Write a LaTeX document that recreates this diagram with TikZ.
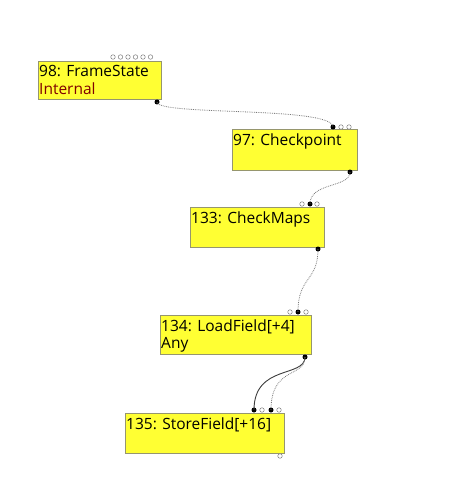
\documentclass[tikz,border=0pt]{standalone}
\usepackage{fontspec}
\setmainfont{Open Sans}
\definecolor{boxfill}{RGB}{255,255,51}
\definecolor{boxline}{RGB}{150,150,110}
\definecolor{inred}{RGB}{128,0,0}
\definecolor{edgegray}{RGB}{120,120,120}
\definecolor{edgedark}{RGB}{60,60,60}
\tikzset{
  box/.style={draw=boxline, fill=boxfill, line width=0.8pt, anchor=north west, inner sep=0pt},
  lbl/.style={anchor=base west, inner sep=0pt, align=left, font=\fontsize{15.5}{17.5}\selectfont},
  inport/.style={circle, draw=gray, fill=white, line width=0.5pt, inner sep=0pt, minimum size=4.5pt},
  usedport/.style={circle, fill=black, inner sep=0pt, minimum size=5pt},
  dotedge/.style={draw=edgegray, dash pattern=on 0.8pt off 1pt, line width=0.8pt},
  soledge/.style={draw=edgedark, line width=0.9pt}
}
\begin{document}
\begin{tikzpicture}[x=1pt,y=-1pt]
\useasboundingbox (0,0) rectangle (475,500);
% node 98
\node[box, minimum width=123pt, minimum height=38pt] (n98) at (38,61) {};
\node[lbl] (n98t) at (39,94.5) {98: FrameState\\\textcolor{inred}{Internal}};
\foreach \i/\x in {1/113,2/120.5,3/128,4/135.5,5/143,6/150.5} {\node[inport] (n98i\i) at (\x,57) {};}
\node[usedport] (n98o) at (157,102) {};
% node 97
\node[box, minimum width=125pt, minimum height=41pt] (n97) at (232,129) {};
\node[lbl] (n97t) at (233,145) {97: Checkpoint};
\node[usedport] (n97i1) at (333,127) {};
\node[inport] (n97i2) at (341,127) {};
\node[inport] (n97i3) at (349,127) {};
\node[usedport] (n97o) at (350,172) {};
% node 133
\node[box, minimum width=134pt, minimum height=40pt] (n133) at (190,207) {};
\node[lbl] (n133t) at (191,223) {133: CheckMaps};
\node[inport] (n133i1) at (302,204) {};
\node[usedport] (n133i2) at (310,204) {};
\node[inport] (n133i3) at (317,204) {};
\node[usedport] (n133o) at (318,249) {};
% node 134
\node[box, minimum width=151pt, minimum height=39pt] (n134) at (160,315) {};
\node[lbl] (n134t) at (161,348.5) {134: LoadField[+4]\\Any};
\node[inport] (n134i1) at (290,312) {};
\node[usedport] (n134i2) at (298,312) {};
\node[inport] (n134i3) at (306,312) {};
\node[usedport] (n134o) at (305,357) {};
% node 135
\node[box, minimum width=159pt, minimum height=40pt] (n135) at (125,413) {};
\node[lbl] (n135t) at (126,429) {135: StoreField[+16]};
\node[usedport] (n135i1) at (254,410) {};
\node[inport] (n135i2) at (262,410) {};
\node[usedport] (n135i3) at (271,410) {};
\node[inport] (n135i4) at (279,410) {};
\node[inport] (n135o) at (280,456) {};
% edges
\draw[dotedge] (n98o.center) .. controls (157,116) and (333,106) .. (n97i1.center);
\draw[dotedge] (n97o.center) .. controls (350,188) and (310,182) .. (n133i2.center);
\draw[dotedge] (n133o.center) .. controls (318,282) and (298,276) .. (n134i2.center);
\draw[soledge] (n134o.center) .. controls (305,378) and (254,364) .. (n135i1.center);
\draw[dotedge] (n134o.center) .. controls (305,378) and (271,366) .. (n135i3.center);
\end{tikzpicture}
\end{document}
